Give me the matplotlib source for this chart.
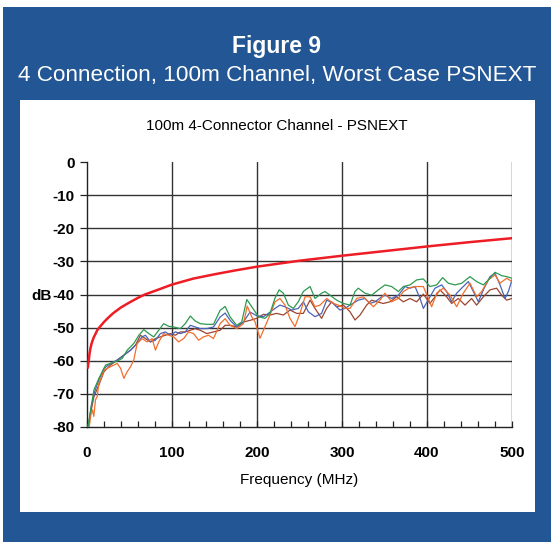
import matplotlib
matplotlib.use('Agg')
import matplotlib.pyplot as plt
from matplotlib.patches import Rectangle
from matplotlib.ticker import MultipleLocator

plt.rcParams['font.family'] = ['Liberation Sans', 'DejaVu Sans']
plt.rcParams['axes.unicode_minus'] = False

# limit line (red)
freq_limit = [1, 1.5, 2, 3, 4, 5, 6, 8, 10, 12, 15, 20, 25, 31, 40, 50, 60, 68, 80,
              100, 125, 150, 175, 200, 250, 300, 350, 400, 450, 500]
db_limit = [-62, -61, -60, -57.8, -56.3, -55.2, -54.3, -52.9, -51.9, -50.8, -49.8, -48.3,
            -47, -45.6, -43.9, -42.4, -41, -40, -38.9, -37, -35.2, -33.9, -32.7, -31.6,
            -29.8, -28.3, -26.9, -25.5, -24.2, -23]

freq_green = [1.2, 4.3, 8.2, 14, 21.9, 27.7, 35.5, 41.4, 47.3, 55, 61, 66.8, 72.7, 78.5,
              84.4, 90.2, 96.1, 102, 109.8, 115.6, 121.5, 127.3, 133.2, 141, 148.8, 156.6,
              162.5, 168.4, 176.2, 182, 188, 196, 201.6, 209.4, 215.3, 221, 226, 231, 236.9,
              242.7, 248.6, 254.5, 262.4, 268.2, 276, 280, 285.9, 293.7, 301.6, 309.4, 315.3,
              319.2, 327, 334.9, 342.7, 350.6, 358.4, 366.3, 372.2, 380, 387.8, 395.7, 403.5,
              411.4, 418.4, 425.1, 433, 440.8, 450.6, 458.4, 466.3, 472.2, 480, 487.8, 493.7, 500]
db_green = [-79.8, -74.8, -68.8, -65.3, -61.3, -60.8, -60.1, -59.3, -56.8, -54.8, -52.3, -50.6,
            -51.8, -52.8, -50.8, -48.8, -49.6, -49.8, -50.3, -48.8, -46.5, -48.0, -48.8, -49.0,
            -49.0, -44.8, -43.6, -46.8, -49.3, -48.3, -41.5, -44.5, -46.7, -47.2, -45.7, -41.2,
            -38.6, -39.6, -43.2, -44.2, -42.2, -39.1, -37.6, -41.2, -39.6, -39.1, -40.2, -41.7,
            -42.7, -43.2, -39.1, -38.1, -39.6, -40.2, -38.6, -37.1, -37.6, -39.1, -37.6, -37.1,
            -35.6, -35.3, -37.6, -37.1, -34.9, -36.6, -37.1, -36.6, -34.6, -36.1, -37.1, -35.6,
            -33.3, -34.3, -34.6, -35.1]

freq_blue = [2, 5, 9, 14, 20, 27.7, 35.5, 43.4, 51.2, 59, 64.8, 68.8, 74.6, 80.5, 86.3, 92.2,
             98, 104, 109.8, 115.6, 121.5, 127.3, 133.2, 141, 148.8, 156.6, 162.5, 168.4,
             176.2, 184, 191.8, 199.6, 207.5, 213.3, 221.2, 227, 232.9, 240.8, 248.6, 254.5,
             260.4, 268.2, 276, 282, 289.8, 297.6, 303.5, 309.4, 319.2, 327, 333, 338.8, 346.7,
             350.6, 358.4, 366.3, 374.1, 380, 385.9, 391.8, 395.7, 403.5, 409.4, 417.3, 423.1,
             429, 434.9, 442.7, 448.6, 454.5, 460.4, 466.3, 474.1, 480, 485.9, 491.8, 495.7, 500]
db_blue = [-79.8, -73.8, -69.3, -65.8, -62.3, -60.8, -59.8, -58.3, -56.8, -54.8, -52.8, -52.3,
           -54.3, -53.8, -51.8, -51.3, -52.3, -51.3, -51.8, -51.3, -49.3, -49.8, -50.3, -50.3,
           -49.8, -46.8, -45.6, -47.8, -49.8, -48.3, -45.3, -46.4, -46.7, -45.7, -44.2, -43.2,
           -43.7, -44.7, -44.2, -42.2, -45.2, -46.7, -45.7, -41.7, -42.7, -44.7, -44.2, -43.2,
           -41.7, -41.2, -42.7, -42.2, -40.7, -40.2, -41.2, -40.2, -37.6, -38.1, -37.6, -41.2,
           -44.2, -40.7, -38.1, -37.1, -39.1, -42.2, -39.6, -37.6, -36.1, -39.1, -42.2, -38.6,
           -34.6, -33.6, -37.1, -41.2, -39.1, -35.6]

freq_orange = [2.7, 4.5, 6.3, 8, 10, 12, 14, 17, 20, 27.7, 35.5, 39.5, 43.4, 47.3, 51.2, 55,
               59, 64.8, 70.7, 76.6, 80.5, 84.4, 90.2, 96.1, 102, 107.8, 113.7, 119.5, 125.4,
               131.3, 137, 143, 148.8, 156.6, 162.5, 168.4, 176.2, 184, 188.5, 193.7, 197.6,
               203.5, 209.4, 215.3, 221.2, 227, 232.9, 238.8, 244.7, 250.6, 256.5, 262.4,
               268.2, 274.1, 282, 289.8, 295.7, 303.5, 309.4, 317.3, 325.1, 331, 336.9, 344.7,
               350.6, 358.4, 366.3, 372.2, 380, 387.8, 395.7, 401.6, 405.5, 411.4, 419.2,
               427.1, 434.9, 442.7, 450.6, 458.4, 464.3, 472.2, 480, 485.9, 493.7, 500]
db_orange = [-80, -76.3, -74.8, -76.8, -71.8, -70.8, -66.8, -65, -62.8, -61.8, -60.8, -62.3,
             -65.3, -63.3, -61.8, -59.8, -54.8, -53.3, -54.3, -53.3, -56.8, -54.3, -51.8,
             -52.3, -52.8, -54.3, -53.3, -51.3, -51.8, -53.8, -52.8, -52.3, -53.3, -48.8,
             -47.3, -49.3, -50.3, -48.8, -43.5, -46.7, -48.2, -53.2, -49.7, -46.2, -42.2,
             -41.2, -43.2, -47.2, -49.7, -45.7, -40.7, -40.7, -43.7, -43.2, -41.2, -42.7,
             -43.2, -44.2, -44.2, -41.2, -40.7, -42.2, -43.7, -41.7, -39.6, -42.2, -41.2,
             -39.1, -37.9, -37.6, -37.6, -41.2, -43.7, -39.6, -38.1, -40.2, -43.7, -39.6,
             -36.6, -40.7, -39.1, -35.6, -34.1, -36.6, -35.1, -36.1]

freq_brown = [1.2, 4.3, 8.2, 14, 20, 27.7, 35.5, 43.4, 51.2, 57, 62.9, 68.8, 74.6, 80.5,
              86.3, 92.2, 98, 104, 109.8, 115.6, 121.5, 127.3, 133.2, 141, 148.8, 156.6,
              162.5, 168.4, 176.2, 184, 191.8, 199.6, 207.5, 215.3, 223.1, 231, 238.8, 246.7,
              254.5, 262.4, 268.2, 276, 281.9, 287.8, 293.7, 301.6, 309.4, 315.3, 321.2, 329,
              334.9, 340.8, 348.6, 356.5, 364.3, 372.2, 380, 387.8, 395.7, 403.5, 409.4,
              415.3, 423.1, 429, 436.9, 444.7, 452.5, 458.4, 466.3, 474.1, 481.9, 487.8,
              493.7, 500]
db_brown = [-79.8, -75.8, -70.8, -67.3, -63.3, -61.3, -59.8, -58.3, -56.8, -55.3, -52.3,
            -53.3, -54.3, -53.3, -52.8, -52.3, -51.8, -52.3, -51.3, -51.3, -50.8, -50.3,
            -50.8, -51.8, -51.3, -50.8, -49.3, -49.3, -49.8, -48.3, -47.8, -47.2, -46.0,
            -46.2, -45.7, -46.2, -44.7, -45.7, -45.7, -41.7, -44.2, -47.2, -44.2, -42.2,
            -43.7, -43.2, -45.2, -47.7, -46.2, -43.2, -41.7, -42.2, -42.7, -42.2, -40.7,
            -42.2, -41.2, -42.2, -39.9, -42.7, -40.7, -38.6, -40.7, -42.7, -41.2, -43.2,
            -41.2, -43.2, -40.7, -38.6, -38.1, -40.2, -41.7, -41.2]

W, H = 554, 542
fig = plt.figure(figsize=(W / 100, H / 100), dpi=100)
fig.patch.set_facecolor('white')

blue_bg = '#235694'
fig.patches.append(Rectangle((3 / W, 0), 548 / W, 535 / H, transform=fig.transFigure,
                             facecolor=blue_bg, edgecolor='none', zorder=0))
fig.patches.append(Rectangle((20 / W, 30 / H), 515 / W, 412 / H, transform=fig.transFigure,
                             facecolor='white', edgecolor='none', zorder=1))

fig.text(0.5, 1 - 47 / H, 'Figure 9', color='white', fontsize=16.5, fontweight='bold',
         ha='center', va='center')
fig.text(0.5, 1 - 76 / H, '4 Connection, 100m Channel, Worst Case PSNEXT', color='white',
         fontsize=16.2, ha='center', va='center')
fig.text(0.5, 1 - 126 / H, '100m 4-Connector Channel - PSNEXT', color='black',
         fontsize=11, ha='center', va='center')

ax = fig.add_axes([87 / W, 1 - 427 / H, 425 / W, 265 / H])
ax.set_zorder(2)
ax.set_facecolor('none')

grid_c = '#333333'
for v in range(-70, 0, 10):
    ax.axhline(v, color=grid_c, lw=1.0, zorder=1)
for f in range(100, 501, 100):
    ax.axvline(f, color=grid_c, lw=1.0, zorder=1)

ax.plot(freq_brown, db_brown, color='#9b4530', lw=0.9, zorder=3)
ax.plot(freq_blue, db_blue, color='#4a64b8', lw=0.9, zorder=3)
ax.plot(freq_orange, db_orange, color='#f26e2c', lw=0.9, zorder=3)
ax.plot(freq_green, db_green, color='#2e9950', lw=0.9, zorder=3)
ax.plot(freq_limit, db_limit, color='#ee1c25', lw=1.8, zorder=4)

ax.set_xlim(0, 500)
ax.set_ylim(-80, 0)
ax.xaxis.set_major_locator(MultipleLocator(100))
ax.xaxis.set_minor_locator(MultipleLocator(20))
ax.yaxis.set_major_locator(MultipleLocator(10))

for s in ['top', 'right']:
    ax.spines[s].set_visible(False)
for s in ['left', 'bottom']:
    ax.spines[s].set_color('#222222')
    ax.spines[s].set_linewidth(1.0)

ax.tick_params(axis='x', which='both', direction='in', length=4, width=0.9,
               color='#222222', labelsize=11, pad=14)
ax.tick_params(axis='y', which='major', direction='out', length=5, width=0.9,
               color='#222222', labelsize=11, pad=4)
for lab in ax.get_xticklabels() + ax.get_yticklabels():
    lab.set_fontweight('bold')

ax.set_xlabel('Frequency (MHz)', fontsize=11, labelpad=9)
ax.set_ylabel('dB', fontsize=11, fontweight='bold', rotation=0, ha='right', va='center')
ax.yaxis.set_label_coords(-0.082, 0.495)

fig.savefig('out.png', dpi=100)
